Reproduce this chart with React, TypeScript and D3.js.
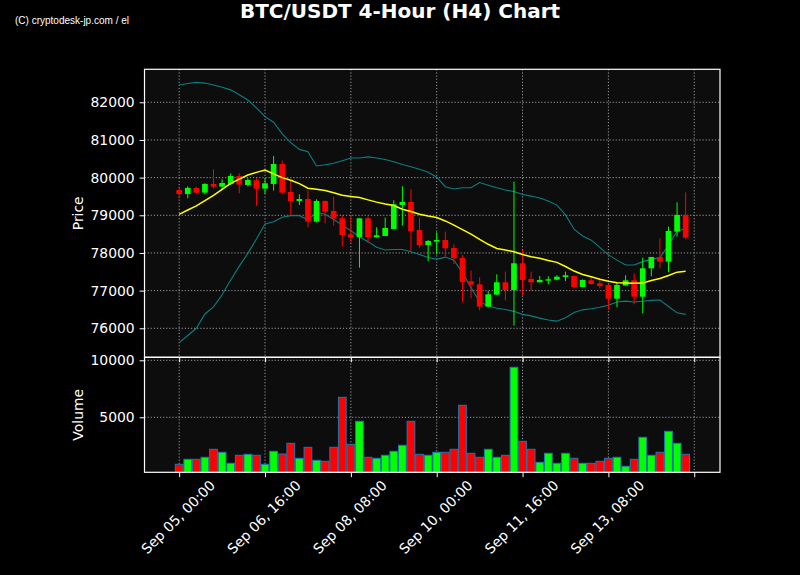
import React, { useEffect, useRef } from 'react';
import * as d3 from 'd3';

// 4h candles, Sep 05 00:00 onwards
const opens = [79670, 79566, 79726, 79602, 79832, 79761, 79832, 80044, 79805, 79929,
  79708, 79832, 80363, 79619, 79380, 79433, 78832, 79380, 79115, 78920,
  78495, 78416, 78920, 78416, 78451, 78637, 79274, 79354, 78610, 78212,
  78301, 78345, 78133, 77867, 77248, 77168, 76575, 76894, 77221, 77018,
  77726, 77310, 77221, 77265, 77290, 77363, 77389, 77097, 77274, 77195,
  77150, 76787, 77133, 77274, 76840, 77593, 77894, 77770, 78566, 79009];
const highs = [79720, 79770, 79752, 79850, 80221, 79956, 80115, 80115, 79982, 79982,
  79982, 80575, 80451, 79920, 79558, 79655, 79425, 79398, 79495, 79009,
  79009, 78920, 78964, 78681, 78938, 79398, 79770, 79690, 78938, 78345,
  78549, 78566, 78230, 77947, 77531, 77354, 76991, 77433, 77504, 79894,
  78079, 77504, 77389, 77380, 77410, 77504, 77407, 77300, 77345, 77327,
  77180, 77212, 77407, 77451, 77876, 77894, 78389, 78699, 79345, 79610];
const lows = [79450, 79450, 79575, 79557, 79717, 79672, 79805, 79584, 79770, 79248,
  79566, 79655, 79566, 79009, 79274, 78681, 78814, 78787, 78726, 78168,
  78274, 77610, 78274, 78407, 78451, 78637, 78726, 78053, 78141, 77779,
  77964, 77903, 77708, 76690, 76796, 76478, 76557, 76894, 76743, 76071,
  76867, 76991, 77221, 77168, 77280, 77256, 77062, 77097, 77159, 77062,
  76486, 76557, 77133, 76637, 76398, 77380, 77593, 77486, 78433, 78363];
const closes = [79565, 79726, 79602, 79832, 79761, 79858, 80044, 79814, 79938, 79708,
  79849, 80363, 79602, 79380, 79433, 78832, 79380, 79097, 78911, 78478,
  78416, 78920, 78416, 78470, 78664, 79292, 79354, 78584, 78212, 78318,
  78345, 78124, 77858, 77230, 77159, 76575, 76902, 77221, 77017, 77726,
  77283, 77221, 77283, 77301, 77370, 77407, 77097, 77283, 77177, 77124,
  76787, 77150, 77274, 76840, 77593, 77894, 77770, 78584, 79009, 78407];
const volumes = [877, 1316, 1316, 1491, 2193, 1930, 965, 1667, 1754, 1667,
  877, 2018, 1781, 2719, 1404, 2368, 1228, 1140, 2368, 6754,
  2632, 4649, 1491, 1404, 1667, 2018, 2544, 4649, 1754, 1667,
  1930, 1930, 2193, 6053, 1842, 1491, 2193, 1491, 1667, 9386,
  2895, 2193, 1053, 1842, 965, 1842, 1404, 965, 965, 1140,
  1404, 1491, 702, 1316, 3246, 1667, 1930, 3772, 2719, 1754];
const maLine = [79026, 79140, 79250, 79390, 79530, 79690, 79850, 79960, 80070, 80140,
  80200, 80100, 80000, 79930, 79840, 79720, 79690, 79660, 79600, 79530,
  79500, 79470, 79410, 79350, 79300, 79260, 79160, 79100, 79030, 78980,
  78940, 78850, 78740, 78620, 78500, 78360, 78230, 78120, 78080, 78030,
  77960, 77900, 77860, 77800, 77750, 77640, 77520, 77430, 77370, 77300,
  77250, 77210, 77200, 77195, 77200, 77270, 77320, 77400, 77490, 77515];
const bbUpper = [82460, 82500, 82530, 82510, 82460, 82400, 82330, 82200, 82060, 81850,
  81620, 81470, 81160, 80930, 80750, 80690, 80310, 80340, 80380, 80450,
  80520, 80520, 80550, 80520, 80480, 80420, 80350, 80290, 80220, 80140,
  80010, 79760, 79700, 79730, 79730, 79870, 79800, 79730, 79670, 79630,
  79550, 79510, 79460, 79380, 79270, 79010, 78630, 78450, 78340, 78150,
  77950, 77810, 77680, 77680, 77770, 77830, 77870, 78210, 78580, 78650];
const bbLower = [75620, 75810, 76000, 76380, 76570, 76890, 77280, 77650, 77990, 78370,
  78770, 78830, 78950, 78990, 78990, 78880, 79080, 79030, 78890, 78740,
  78590, 78430, 78300, 78150, 78080, 78090, 78090, 78030, 77960, 77880,
  77830, 77890, 77810, 77480, 77080, 76700, 76600, 76530, 76500, 76450,
  76370, 76330, 76270, 76220, 76190, 76280, 76420, 76490, 76520, 76560,
  76610, 76700, 76720, 76700, 76720, 76740, 76750, 76580, 76410, 76370];

const xTicks = [0, 10, 20, 30, 40, 50, 60];
const xTickLabels = ['Sep 05, 00:00', 'Sep 06, 16:00', 'Sep 08, 08:00', 'Sep 10, 00:00', 'Sep 11, 16:00', 'Sep 13, 08:00', ''];
const priceTicks = [76000, 77000, 78000, 79000, 80000, 81000, 82000];
const volumeTicks = [5000, 10000];

const FONT = 'DejaVu Sans';

const App: React.FC = () => {
  const ref = useRef<SVGSVGElement>(null);

  useEffect(() => {
    const svg = d3.select(ref.current);
    svg.selectAll('*').remove();

    const left = 144.5, right = 720;
    const pTop = 69.3, pBottom = 357.3;
    const vTop = 357.3, vBottom = 472.3;

    const x = d3.scaleLinear().domain([-4.04, 63.0]).range([left, right]);
    const yP = d3.scaleLinear().domain([75230, 82876]).range([pBottom, pTop]);
    const yV = d3.scaleLinear().domain([175, 10263]).range([vBottom, vTop]);
    const step = x(1) - x(0);
    const idx = d3.range(opens.length);

    svg.append('rect').attr('width', 800).attr('height', 575).attr('fill', '#000');

    // panel backgrounds
    svg.append('rect').attr('x', left).attr('y', pTop).attr('width', right - left).attr('height', pBottom - pTop).attr('fill', '#0d0d0d');
    svg.append('rect').attr('x', left).attr('y', vTop).attr('width', right - left).attr('height', vBottom - vTop).attr('fill', '#0d0d0d');

    const grid = svg.append('g')
      .attr('stroke', '#9a9a9a')
      .attr('stroke-width', 1)
      .attr('stroke-dasharray', '1.2,1.9');
    xTicks.forEach(t => {
      grid.append('line').attr('x1', x(t)).attr('x2', x(t)).attr('y1', pTop).attr('y2', pBottom);
      grid.append('line').attr('x1', x(t)).attr('x2', x(t)).attr('y1', vTop).attr('y2', vBottom);
    });
    priceTicks.forEach(t => {
      grid.append('line').attr('x1', left).attr('x2', right).attr('y1', yP(t)).attr('y2', yP(t));
    });
    volumeTicks.forEach(t => {
      grid.append('line').attr('x1', left).attr('x2', right).attr('y1', yV(t)).attr('y2', yV(t));
    });

    // bollinger bands + ma
    const line = (vals: number[]) => d3.line<number>().x((_, i) => x(i)).y(d => yP(d))(vals);
    svg.append('path').attr('d', line(bbUpper)).attr('fill', 'none').attr('stroke', '#0b7f80').attr('stroke-width', 1.1);
    svg.append('path').attr('d', line(bbLower)).attr('fill', 'none').attr('stroke', '#0b7f80').attr('stroke-width', 1.1);

    // candles
    const bodyW = step * 0.66;
    const candles = svg.append('g');
    idx.forEach(i => {
      const up = closes[i] >= opens[i];
      const col = up ? '#00ff00' : '#ff0000';
      candles.append('line')
        .attr('x1', x(i)).attr('x2', x(i))
        .attr('y1', yP(highs[i])).attr('y2', yP(lows[i]))
        .attr('stroke', col).attr('stroke-width', 1);
      const top = yP(Math.max(opens[i], closes[i]));
      const bot = yP(Math.min(opens[i], closes[i]));
      candles.append('rect')
        .attr('x', x(i) - bodyW / 2).attr('y', top)
        .attr('width', bodyW).attr('height', Math.max(1, bot - top))
        .attr('fill', col);
    });

    svg.append('path').attr('d', line(maLine)).attr('fill', 'none').attr('stroke', '#ffff00').attr('stroke-width', 1.5);

    // volume bars
    const barW = step * 0.9;
    svg.append('g').selectAll('rect').data(idx).enter().append('rect')
      .attr('x', i => x(i) - barW / 2)
      .attr('y', i => yV(volumes[i]))
      .attr('width', barW)
      .attr('height', i => vBottom - yV(volumes[i]))
      .attr('fill', i => closes[i] >= opens[i] ? '#00ff00' : '#ff0000')
      .attr('stroke', '#1f77b4')
      .attr('stroke-width', 1);

    // spines
    const spines = svg.append('g').attr('fill', 'none').attr('stroke', '#fff').attr('stroke-width', 1.2);
    spines.append('rect').attr('x', left).attr('y', pTop).attr('width', right - left).attr('height', pBottom - pTop);
    spines.append('rect').attr('x', left).attr('y', vTop).attr('width', right - left).attr('height', vBottom - vTop);

    // axes
    const styleAxis = (g: d3.Selection<SVGGElement, unknown, null, undefined>) => {
      g.select('.domain').remove();
      g.selectAll('line').attr('stroke', '#fff').attr('stroke-width', 1);
      g.selectAll('text').attr('fill', '#fff').attr('font-family', FONT).attr('font-size', 13.9);
    };

    svg.append('g').attr('transform', `translate(${left},0)`)
      .call(d3.axisLeft(yP).tickValues(priceTicks).tickFormat(d => String(d)).tickSize(4.9).tickPadding(4.9))
      .call(styleAxis);
    svg.append('g').attr('transform', `translate(${left},0)`)
      .call(d3.axisLeft(yV).tickValues(volumeTicks).tickFormat(d => String(d)).tickSize(4.9).tickPadding(4.9))
      .call(styleAxis);

    svg.append('g').attr('transform', `translate(0,${pBottom})`)
      .call(d3.axisBottom(x).tickValues(xTicks).tickFormat(() => '').tickSize(4.9))
      .call(styleAxis);

    const xAxis = svg.append('g').attr('transform', `translate(0,${vBottom})`)
      .call(d3.axisBottom(x).tickValues(xTicks).tickFormat(() => '').tickSize(4.9))
      .call(styleAxis);
    // rotated labels centred under each tick
    xTicks.forEach((t, k) => {
      xAxis.append('text')
        .attr('transform', `translate(${x(t) + 2.5},${48.2}) rotate(-45)`)
        .attr('text-anchor', 'middle')
        .attr('fill', '#fff')
        .attr('font-family', FONT)
        .attr('font-size', 13.9)
        .text(xTickLabels[k]);
    });

    // axis labels
    svg.append('text')
      .attr('transform', `translate(83,${(pTop + pBottom) / 2}) rotate(-90)`)
      .attr('text-anchor', 'middle').attr('fill', '#fff')
      .attr('font-family', FONT).attr('font-size', 13.9)
      .text('Price');
    svg.append('text')
      .attr('transform', `translate(83,${(vTop + vBottom) / 2}) rotate(-90)`)
      .attr('text-anchor', 'middle').attr('fill', '#fff')
      .attr('font-family', FONT).attr('font-size', 13.9)
      .text('Volume');

    // title + credit
    svg.append('text')
      .attr('x', 400).attr('y', 18)
      .attr('text-anchor', 'middle').attr('fill', '#fff')
      .attr('font-family', FONT).attr('font-weight', 'bold').attr('font-size', 20)
      .text('BTC/USDT 4-Hour (H4) Chart');
    svg.append('text')
      .attr('x', 15).attr('y', 24)
      .attr('fill', '#fff')
      .attr('font-family', 'Liberation Sans').attr('font-size', 11.5)
      .attr('textLength', 114).attr('lengthAdjust', 'spacingAndGlyphs')
      .text('(C) cryptodesk-jp.com / el');
  }, []);

  return (
    <svg ref={ref} width={800} height={575}
      style={{ position: 'absolute', left: 0, top: 0, display: 'block', background: '#000' }} />
  );
};

export default App;
